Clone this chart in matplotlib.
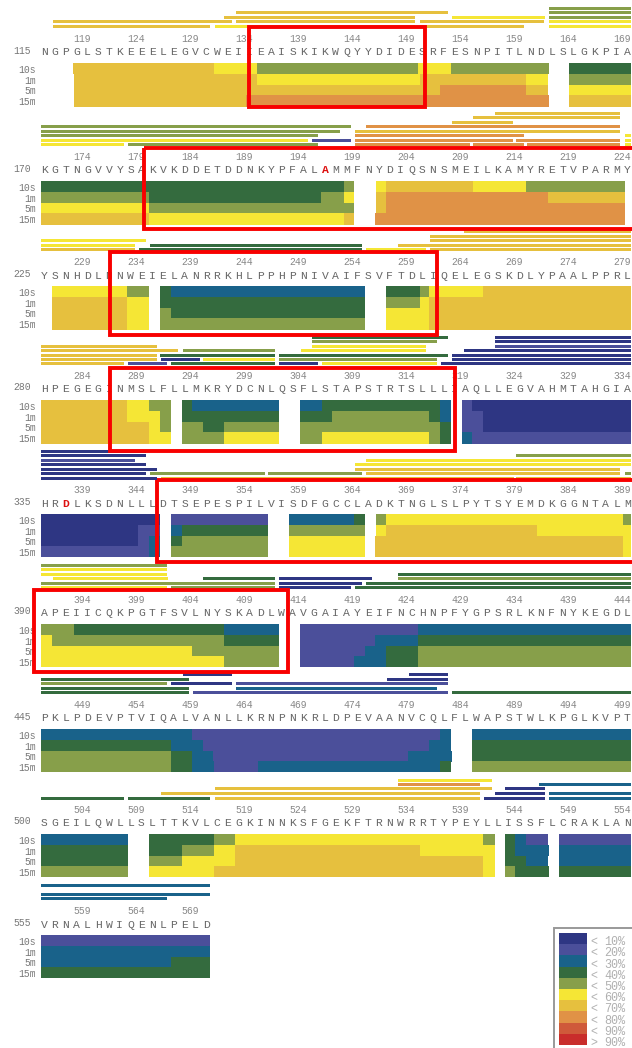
import matplotlib
matplotlib.use('Agg')
import matplotlib.pyplot as plt
from matplotlib.patches import Rectangle

# 1. Data
times = ['10s', '1m', '5m', '15m']
colors = {1: '#2e3683', 2: '#4b4f9a', 3: '#19628a', 4: '#346b3e', 5: '#879f4a',
          6: '#f5e635', 7: '#e6c03e', 8: '#e09246', 9: '#cf5a3a', 10: '#c92d2b'}
legend_labels = ['< 10%', '< 20%', '< 30%', '< 40%', '< 50%', '< 60%', '< 70%', '< 80%', '< 90%', '> 90%']

starts = [115, 170, 225, 280, 335, 390, 445, 500, 555]
seq_115 = 'NGPGLSTKEEELEGVCWEIIEAISKIKWQYYDIDESRFESNPITLNDLSLGKPIA'
seq_170 = 'KGTNGVVYSAKVKDDETDDNKYPFALAMMFNYDIQSNSMEILKAMYRETVPARMY'
seq_225 = 'YSNHDLNNWEIELANRRKHLPPHPNIVAIFSVFTDLIQELEGSKDLYPAALPPRL'
seq_280 = 'HPEGEGINMSLFLLMKRYDCNLQSFLSTAPSTRTSLLLIAQLLEGVAHMTAHGIA'
seq_335 = 'HRDLKSDNLLLDTSEPESPILVISDFGCCLADKTNGLSLPYTSYEMDKGGNTALM'
seq_390 = 'APEIICQKPGTFSVLNYSKADLWAVGAIAYEIFNCHNPFYGPSRLKNFNYKEGDL'
seq_445 = 'PKLPDEVPTVIQALVANLLKRNPNKRLDPEVAANVCQLFLWAPSTWLKPGLKVPT'
seq_500 = 'SGEILQWLLSLTTKVLCEGKINNKSFGEKFTRNWRRTYPEYLLISSFLCRAKLAN'
seq_555 = 'VRNALHWIQENLPELD'
seqs = [seq_115, seq_170, seq_225, seq_280, seq_335, seq_390, seq_445, seq_500, seq_555]

# red residues: (row, index in row)
red_residues = [(1, 26), (4, 2)]

# heat map: for each time point a list of (from, to, level)
heat_115 = [
    [(3, 16.1, 7), (16.1, 20.1, 6), (20.1, 35.1, 5), (35.1, 38.2, 6), (38.2, 47.4, 5), (49.2, 55, 4)],
    [(3.1, 20.1, 7), (20.1, 35.3, 6), (35.3, 45.2, 7), (45.2, 47.3, 6), (49.2, 55, 5)],
    [(3.1, 37.2, 7), (37.2, 45.2, 8), (45.2, 47.3, 7), (49.2, 55, 6)],
    [(3.1, 19.1, 7), (19.1, 47.4, 8), (49.2, 55, 7)],
]
heat_170 = [
    [(0, 28.2, 4), (28.2, 29.2, 5), (31.2, 32.2, 6), (32.2, 40.3, 7), (40.3, 45.2, 6), (45.2, 54.4, 5)],
    [(0, 10.1, 5), (10.1, 26.1, 4), (26.1, 28.2, 5), (28.2, 29.2, 6), (31.2, 32.2, 7), (32.2, 47.3, 8), (47.3, 54.4, 7)],
    [(0, 10.1, 6), (10.1, 29.2, 5), (31.2, 32.2, 7), (32.2, 54.4, 8)],
    [(0, 10.1, 7), (10.1, 28.2, 6), (28.2, 29.2, 7), (31.1, 54.4, 8)],
]
heat_225 = [
    [(1, 8, 6), (8, 10.1, 5), (11.1, 12.1, 4), (12.1, 30.2, 3), (32.2, 35.3, 4), (35.3, 36.2, 5), (36.2, 41.2, 6), (41.2, 55, 7)],
    [(1, 8, 7), (8, 10.1, 6), (11.1, 30.2, 4), (32.2, 35.3, 5), (35.3, 36.2, 6), (36.2, 55, 7)],
    [(1, 8, 7), (8, 10.1, 6), (11.1, 12.1, 5), (12.1, 30.2, 4), (32.2, 36.2, 6), (36.2, 55, 7)],
    [(1, 8, 7), (8, 10.1, 6), (11.1, 30.2, 5), (32.2, 36.2, 6), (36.2, 55, 7)],
]
heat_280 = [
    [(0, 8, 7), (8, 10.1, 6), (10.1, 12.1, 5), (13.1, 14.1, 4), (14.1, 22.2, 3), (24.1, 26.2, 3), (26.2, 37.2, 4), (37.2, 38.2, 3), (39.2, 40.2, 2), (40.2, 55, 1)],
    [(0, 8, 7), (8, 11.1, 6), (11.1, 12.1, 5), (13.1, 22.2, 4), (24.1, 27.1, 4), (27.1, 36.2, 5), (36.2, 37.2, 4), (37.2, 38.2, 3), (39.2, 41.2, 2), (41.2, 55, 1)],
    [(0, 10.1, 7), (10.1, 11.1, 6), (11.1, 12.1, 5), (13.1, 15.1, 5), (15.1, 17.1, 4), (17.1, 22.2, 5), (24.1, 37.2, 5), (37.2, 38.2, 4), (39.2, 41.2, 2), (41.2, 55, 1)],
    [(0, 10.1, 7), (10.1, 12.1, 6), (13.1, 17.1, 5), (17.1, 22.2, 6), (24.1, 26.2, 5), (26.2, 36.2, 6), (36.2, 37.2, 5), (37.2, 38.2, 4), (39.2, 40.2, 3), (40.2, 55, 2)],
]
heat_335 = [
    [(0, 11.1, 1), (12.1, 21.2, 2), (23.1, 29.2, 3), (29.2, 30.2, 4), (31.2, 32.2, 5), (32.2, 54.3, 6), (54.3, 55, 5)],
    [(0, 9, 1), (9, 11.1, 2), (12.1, 13.1, 3), (13.1, 21.2, 4), (23.1, 30.2, 5), (31.2, 32.2, 6), (32.2, 46.2, 7), (46.2, 55, 6)],
    [(0, 9, 1), (9, 10.1, 2), (10.1, 11.1, 3), (12.1, 13.1, 4), (13.1, 21.2, 5), (23.1, 30.2, 6), (31.1, 54.3, 7), (54.3, 55, 6)],
    [(0, 10.1, 2), (10.1, 11.1, 3), (12.1, 21.2, 5), (23.1, 30.2, 6), (31.1, 54.3, 7), (54.3, 55, 6)],
]
heat_390 = [
    [(0, 3.1, 5), (3.1, 17.1, 4), (17.1, 22.2, 3), (24.1, 35.1, 2), (35.1, 55, 3)],
    [(0, 1, 6), (1, 17.1, 5), (17.1, 22.2, 4), (24.1, 31.1, 2), (31.1, 35.1, 3), (35.1, 55, 4)],
    [(0, 14.1, 6), (14.1, 22.2, 5), (24.1, 30.2, 2), (30.2, 32.2, 3), (32.2, 35.1, 4), (35.1, 55, 5)],
    [(0, 17.1, 6), (17.1, 22.2, 5), (24.1, 29.2, 2), (29.2, 32.2, 3), (32.2, 35.1, 4), (35.1, 55, 5)],
]
heat_445 = [
    [(0, 14.1, 3), (14.1, 37.2, 2), (37.2, 38.2, 3), (40.2, 55, 3)],
    [(0, 12.1, 4), (12.1, 15.1, 3), (15.1, 36.2, 2), (36.2, 38.2, 3), (40.2, 55, 4)],
    [(0, 12.1, 5), (12.1, 14.1, 4), (14.1, 16, 3), (16, 34.2, 2), (34.2, 38.3, 3), (40.2, 55, 4)],
    [(0, 12.1, 5), (12.1, 14.1, 4), (14.1, 16.1, 3), (16.1, 20.2, 2), (20.2, 37.2, 3), (37.2, 38.2, 4), (40.2, 55, 5)],
]
heat_500 = [
    [(0, 8.1, 3), (10.1, 16.1, 4), (16.1, 18.1, 5), (18.1, 41.2, 6), (41.2, 42.3, 5), (43.3, 44.2, 4), (44.2, 45.2, 3), (45.2, 47.3, 2), (48.3, 55, 2)],
    [(0, 8.1, 4), (10.1, 13.1, 4), (13.1, 16.1, 5), (16.1, 18.1, 6), (18.1, 35.3, 7), (35.3, 42.3, 6), (43.3, 44.2, 4), (44.2, 47.4, 3), (48.3, 55, 3)],
    [(0, 8.1, 4), (10.1, 13.1, 5), (13.1, 18.1, 6), (18.1, 41.2, 7), (41.2, 42.3, 6), (43.3, 45.2, 4), (45.2, 47.3, 3), (48.3, 55, 3)],
    [(0, 8.1, 5), (10.1, 16.1, 6), (16.1, 41.2, 7), (41.2, 42.3, 6), (43.3, 44.2, 5), (44.2, 47.4, 4), (48.3, 55, 4)],
]
heat_555 = [
    [(0, 15.8, 2)],
    [(0, 15.8, 3)],
    [(0, 12.1, 3), (12.1, 15.8, 4)],
    [(0, 15.8, 4)],
]
heats = [heat_115, heat_170, heat_225, heat_280, heat_335, heat_390, heat_445, heat_500, heat_555]

# peptides above each row: one list per stacked line, (from, to, level)
pep_115 = [
    [(47.4, 55, 5)],
    [(18.2, 37.9, 7), (47.4, 55, 5)],
    [(17.1, 34.9, 7), (38.3, 47, 6), (47.4, 55, 5)],
    [(1.1, 17.8, 7), (18.2, 34.9, 7), (35.3, 46.9, 7), (47.4, 55, 6)],
    [(1.1, 15.8, 7), (16.2, 34.9, 6), (35.3, 45, 7), (47.4, 55, 6)],
]
pep_170 = [
    [(42.3, 54, 7)],
    [(40.3, 54, 7)],
    [(38.3, 44, 7)],
    [(0, 28.9, 5), (30.3, 54, 8)],
    [(0, 27.9, 5), (29.3, 54, 7)],
    [(0, 25.8, 5), (29.3, 45, 8), (54.4, 55, 6)],
    [(0, 24.9, 6), (25.3, 28.9, 2), (29.3, 44, 8), (44.3, 54, 8), (54.4, 55, 6)],
    [(0, 7.7, 6), (8.1, 25.8, 5), (29.3, 40, 8), (40.3, 45, 8), (45.3, 54, 8), (54.4, 55, 6)],
]
pep_225 = [
    [(39.4, 55, 7)],
    [(36.3, 55, 7)],
    [(0, 9.8, 6), (36.3, 55, 7)],
    [(0, 8.8, 6), (10.2, 29.9, 4), (33.3, 55, 7)],
    [(0, 8.8, 7), (9.1, 29.9, 4), (30.3, 35.9, 6), (36.3, 55, 7)],
]
pep_280 = [
    [(25.3, 37.9, 4), (42.3, 55, 1)],
    [(25.3, 36.9, 5), (42.3, 55, 1)],
    [(0, 10.8, 7), (25.3, 35.9, 6), (42.3, 55, 2)],
    [(0, 12.8, 7), (13.2, 21.8, 5), (24.2, 35.9, 6), (39.4, 55, 1)],
    [(0, 10.8, 7), (11.1, 21.8, 4), (22.2, 37.9, 4), (38.3, 55, 1)],
    [(0, 10.8, 7), (11.2, 14.8, 1), (15.1, 21.8, 6), (22.2, 36.9, 5), (38.3, 55, 1)],
    [(0, 7.7, 7), (8.1, 11.7, 2), (12.1, 21.8, 4), (22.2, 25.8, 1), (26.2, 36.9, 6), (37.3, 55, 1)],
]
pep_335 = [
    [(0, 9.8, 1)],
    [(0, 9.8, 1), (44.3, 55, 5)],
    [(0, 8.8, 2), (30.3, 55, 6)],
    [(0, 9.8, 1), (29.3, 55, 6)],
    [(0, 10.8, 1), (29.3, 54, 7)],
    [(0, 9.8, 1), (10.2, 20.9, 5), (21.2, 29.9, 5), (30.3, 54, 7), (54.4, 55, 5)],
    [(0, 10.8, 1), (11.2, 44.1, 7), (44.3, 55, 7)],
]
pep_390 = [
    [(0, 11.7, 5)],
    [(0, 11.7, 6)],
    [(0, 11.7, 6), (33.3, 55, 4)],
    [(1.1, 11.8, 6), (15.1, 21.8, 4), (22.2, 30.9, 1), (33.3, 55, 5)],
    [(0, 21.8, 5), (22.2, 29.9, 1), (30.3, 55, 4)],
    [(0, 11.7, 6), (12.1, 21.8, 5), (22.2, 28.9, 1), (29.3, 55, 4)],
]
pep_445 = [
    [(13.2, 17.8, 1), (34.3, 37.9, 1)],
    [(0, 13.8, 4), (32.3, 37.9, 1)],
    [(0, 11.7, 5), (12.1, 17.8, 1), (18.2, 37.9, 2)],
    [(0, 13.8, 4), (18.2, 36.9, 3)],
    [(0, 13.8, 4), (14.2, 37.9, 2), (38.3, 55, 4)],
]
pep_500 = [
    [(33.3, 42, 6)],
    [(33.3, 40.9, 8), (46.4, 55, 3)],
    [(16.2, 42, 7), (43.3, 47, 1)],
    [(11.2, 40.9, 7), (42.3, 47, 1), (47.4, 55, 3)],
    [(0, 7.7, 4), (8.1, 15.8, 4), (16.2, 40.9, 7), (41.3, 47, 1), (47.4, 55, 3)],
]
pep_555 = [
    [(0, 15.8, 3)],
    [(0, 15.8, 3)],
    [(0, 11.7, 3)],
]
peps = [pep_115, pep_170, pep_225, pep_280, pep_335, pep_390, pep_445, pep_500, pep_555]

# 2. Layout, in pixels of the 632x1048 picture
W, H = 632, 1048
pep_y = [
    [8.5, 12.5, 17.3, 21.3, 26.3],
    [113.3, 117.3, 122.3, 126.3, 131.3, 135.3, 140.3, 144.3],
    [231.0, 236.3, 240.3, 245.3, 249.3],
    [337.3, 341.3, 346.3, 350.3, 355.3, 359.3, 363.3],
    [451.3, 455.3, 460.3, 464.3, 469.3, 473.3, 478.3],
    [565.3, 569.3, 574.3, 578.3, 583.3, 587.3],
    [674.3, 679.3, 683.3, 688.3, 692.3],
    [780.3, 784.3, 788.3, 793.3, 798.3],
    [885.3, 894.3, 898.3],
]
num_y = [38.5, 156.7, 261.7, 376, 490, 600, 705, 810, 910.7]
seq_y = [52, 170, 275.7, 389, 503.7, 612.7, 718.3, 823, 924.7]
heat_y = [63, 181, 286, 400, 514, 624, 729, 834, 935]
heat_h = 10.85
red_boxes = [(249, 27.3, 424.6, 107), (144, 148, 660, 229), (110, 252, 437, 335),
             (110, 368, 455, 451), (157, 480, 660, 562), (34, 590, 287.5, 672)]

fig = plt.figure(figsize=(W / 100, H / 100), dpi=100)
fig.patch.set_facecolor('white')

def px_axes(x0, x1):
    ax = fig.add_axes([x0 / W, 0, (x1 - x0) / W, 1])
    ax.set_xlim(0, 55)
    ax.set_ylim(H, 0)
    ax.axis('off')
    ax.patch.set_alpha(0)
    return ax

ax = px_axes(41, 631)      # bars, x in residues
ax_seq = px_axes(39, 633)  # letters sit on a slightly wider pitch
ax_px = fig.add_axes([0, 0, 1, 1])
ax_px.set_xlim(0, W)
ax_px.set_ylim(H, 0)
ax_px.axis('off')
ax_px.patch.set_alpha(0)

# 3. Rows
for r, first in enumerate(starts):
    for line, y in zip(peps[r], pep_y[r]):
        for a, b, lev in line:
            ax.barh(y, b - a, left=a, height=3.2, color=colors[lev], linewidth=0)

    for t, spans in enumerate(heats[r]):
        y = heat_y[r] + t * heat_h
        for a, b, lev in spans:
            ax.barh(y + heat_h / 2, b - a, left=a, height=heat_h + 0.2, color=colors[lev],
                    linewidth=0, antialiased=False)
        ax_px.text(36, y + heat_h * 0.62, times[t], ha='right', va='center', fontsize=7,
                   family='Liberation Mono', color='#777777')

    ax_px.text(22, seq_y[r] - 1.5, str(first), ha='center', va='center', fontsize=7,
               family='Liberation Mono', color='#777777')
    for i, letter in enumerate(seqs[r]):
        is_red = (r, i) in red_residues
        ax_seq.text(i + 0.48, seq_y[r], letter, ha='center', va='center', fontsize=8.2,
                    family='Liberation Mono', color='#dd1111' if is_red else '#666666',
                    fontweight='bold' if is_red else 'normal')
    # number labels sit half a residue left of their letter
    for i in range(4, len(seqs[r]), 5):
        ax_seq.text(i, num_y[r], str(first + i), ha='center', va='center', fontsize=7,
                    family='Liberation Mono', color='#888888')

# 4. Red boxes
for x0, y0, x1, y1 in red_boxes:
    ax_px.add_patch(Rectangle((x0, y0), x1 - x0, y1 - y0, fill=False, edgecolor='#f80000',
                              linewidth=2.8, zorder=10, clip_on=True))

# 5. Legend
ax_px.add_patch(Rectangle((553.5, 927.5), 100, 140, facecolor='white', edgecolor='#999999',
                          linewidth=1.4, zorder=5))
for k, lab in enumerate(legend_labels):
    y = 933 + k * 11.2
    ax_px.add_patch(Rectangle((559, y), 28, 11.2, facecolor=colors[k + 1], edgecolor='none', zorder=6))
    ax_px.text(590, y + 9.2, lab[0], ha='left', va='center', fontsize=8.5, color='#b0b0b0',
               family='Liberation Mono', zorder=6)
    ax_px.text(604, y + 9.2, lab[2:], ha='left', va='center', fontsize=8.5, color='#b0b0b0',
               family='Liberation Mono', zorder=6)

fig.savefig('out.png', dpi=100)
